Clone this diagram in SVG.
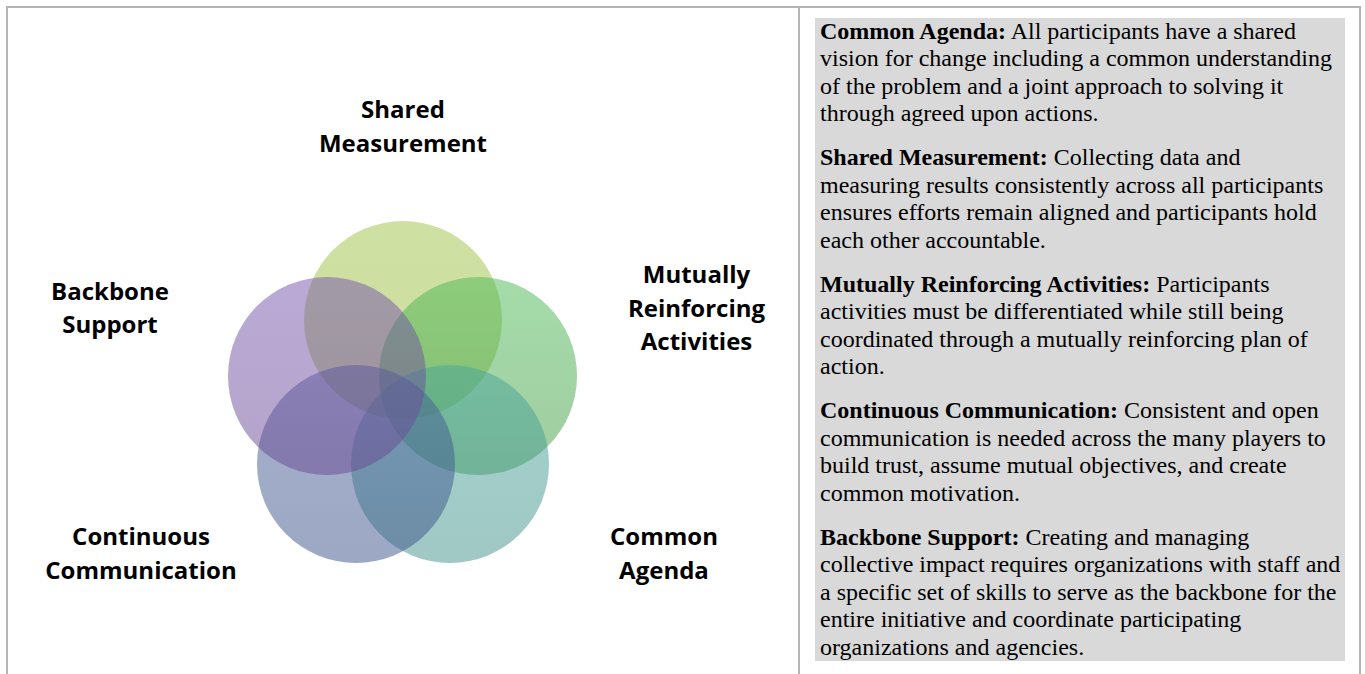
<svg xmlns="http://www.w3.org/2000/svg" width="1365" height="674" viewBox="0 0 1365 674">
  <defs>
    <linearGradient id="gTop" x1="0" y1="0" x2="0" y2="1">
      <stop offset="0" stop-color="#9fc147"/>
      <stop offset="1" stop-color="#9bbd41"/>
    </linearGradient>
    <linearGradient id="gRight" x1="0" y1="0" x2="0" y2="1">
      <stop offset="0" stop-color="#4bb955"/>
      <stop offset="1" stop-color="#419941"/>
    </linearGradient>
    <linearGradient id="gBR" x1="0" y1="0" x2="0" y2="1">
      <stop offset="0" stop-color="#47a59d"/>
      <stop offset="1" stop-color="#419189"/>
    </linearGradient>
    <linearGradient id="gBL" x1="0" y1="0" x2="0" y2="1">
      <stop offset="0" stop-color="#476199"/>
      <stop offset="1" stop-color="#3b5189"/>
    </linearGradient>
    <linearGradient id="gLeft" x1="0" y1="0" x2="0" y2="1">
      <stop offset="0" stop-color="#7755ad"/>
      <stop offset="1" stop-color="#694791"/>
    </linearGradient>
  </defs>
  <style>
    .frame { fill: none; stroke: #b4b4b4; stroke-width: 2; }
    .circ { fill-opacity: 0.5; stroke: none; }
    .lbl { font-family: "Open Sans", "Liberation Sans", sans-serif; font-weight: 700; font-size: 24px; fill: #000; text-anchor: middle; }
    .desc { font-family: "Liberation Serif", "Times New Roman", serif; font-size: 24px; fill: #000; }
    .desc .b { font-weight: 700; }
  </style>
  <rect width="1365" height="674" fill="#ffffff"/>

  <g id="table">
    <path class="frame" d="M7,674 V7 H1360 V674"/>
    <line class="frame" x1="799" y1="7" x2="799" y2="674"/>
    <rect x="815" y="18" width="530" height="643" fill="#d9d9d9"/>
  </g>

  <g id="venn">
    <g id="circle-shared-measurement"><circle class="circ" cx="403" cy="320" r="99" fill="url(#gTop)"/></g>
    <g id="circle-mutually-reinforcing"><circle class="circ" cx="478" cy="376" r="99" fill="url(#gRight)"/></g>
    <g id="circle-common-agenda"><circle class="circ" cx="450" cy="464" r="99" fill="url(#gBR)"/></g>
    <g id="circle-continuous-communication"><circle class="circ" cx="356" cy="464" r="99" fill="url(#gBL)"/></g>
    <g id="circle-backbone-support"><circle class="circ" cx="327" cy="376" r="99" fill="url(#gLeft)"/></g>
  </g>

  <g id="connectors"></g>

  <g id="label-shared-measurement">
    <text class="lbl" x="403" y="118">Shared</text>
    <text class="lbl" x="403" y="151.5">Measurement</text>
  </g>
  <g id="label-mutually-reinforcing">
    <text class="lbl" x="696.5" y="283">Mutually</text>
    <text class="lbl" x="696.5" y="316.5">Reinforcing</text>
    <text class="lbl" x="696.5" y="350">Activities</text>
  </g>
  <g id="label-backbone-support">
    <text class="lbl" x="110" y="300">Backbone</text>
    <text class="lbl" x="110" y="333">Support</text>
  </g>
  <g id="label-continuous-communication">
    <text class="lbl" x="141" y="545">Continuous</text>
    <text class="lbl" x="141" y="578.5">Communication</text>
  </g>
  <g id="label-common-agenda">
    <text class="lbl" x="664" y="545">Common</text>
    <text class="lbl" x="664" y="578.5">Agenda</text>
  </g>

  <g id="descriptions" class="desc">
    <text x="820" y="38.5"><tspan class="b">Common Agenda:</tspan> All participants have a shared</text>
    <text x="820" y="66">vision for change including a common understanding</text>
    <text x="820" y="93.5">of the problem and a joint approach to solving it</text>
    <text x="820" y="121">through agreed upon actions.</text>

    <text x="820" y="165"><tspan class="b">Shared Measurement:</tspan> Collecting data and</text>
    <text x="820" y="192.5">measuring results consistently across all participants</text>
    <text x="820" y="220">ensures efforts remain aligned and participants hold</text>
    <text x="820" y="247.5">each other accountable.</text>

    <text x="820" y="291.5"><tspan class="b">Mutually Reinforcing Activities:</tspan> Participants</text>
    <text x="820" y="319">activities must be differentiated while still being</text>
    <text x="820" y="346.5">coordinated through a mutually reinforcing plan of</text>
    <text x="820" y="374">action.</text>

    <text x="820" y="418"><tspan class="b">Continuous Communication:</tspan> Consistent and open</text>
    <text x="820" y="445.5">communication is needed across the many players to</text>
    <text x="820" y="473">build trust, assume mutual objectives, and create</text>
    <text x="820" y="500.5">common motivation.</text>

    <text x="820" y="544.5"><tspan class="b">Backbone Support:</tspan> Creating and managing</text>
    <text x="820" y="572">collective impact requires organizations with staff and</text>
    <text x="820" y="599.5">a specific set of skills to serve as the backbone for the</text>
    <text x="820" y="627">entire initiative and coordinate participating</text>
    <text x="820" y="654.5">organizations and agencies.</text>
  </g>
</svg>
